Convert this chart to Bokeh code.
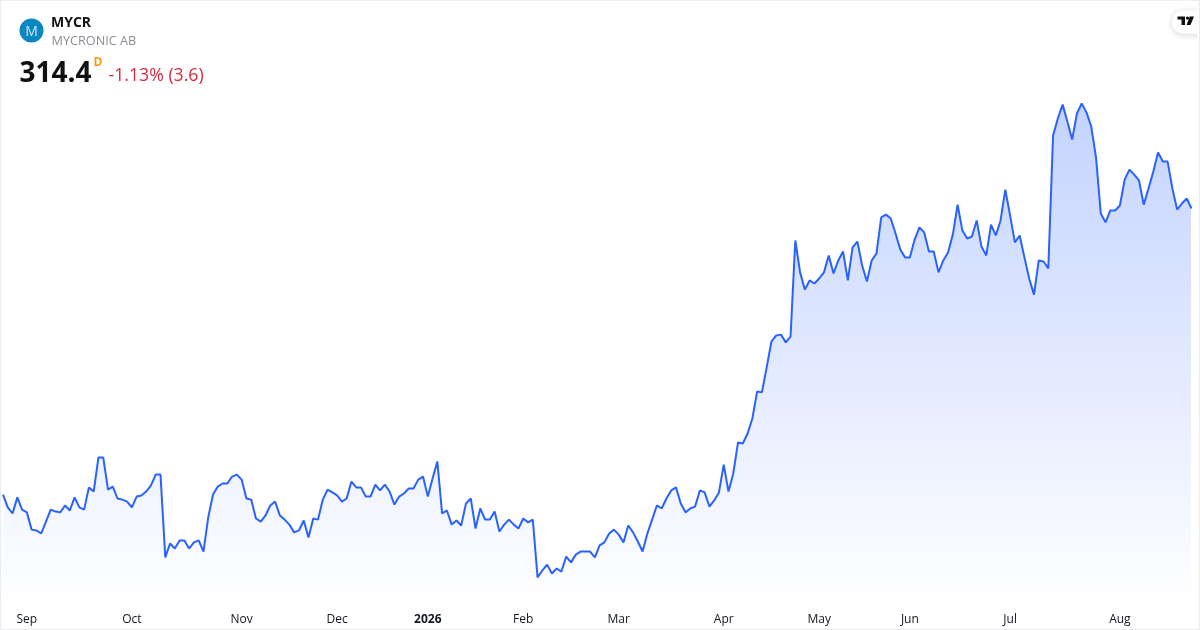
from bokeh.plotting import figure
from bokeh.models import LinearAxis, FixedTicker, Range1d
from bokeh.core.properties import value
from bokeh.embed import file_html
from bokeh.resources import INLINE
import numpy as np

ticker = "MYCR"
company = "MYCRONIC AB"
last_price = "314.4"
interval = "D"
change = "-1.13% (3.6)"

prices_sep_nov = [211.4,206.8,204.6,210.4,206.0,205.0,198.8,198.5,197.4,201.7,206.0,205.3,205.0,207.5,205.7,210.4,206.8,206.0,214.0,212.5,224.8,224.8,213.2,214.3,210.0,209.6,208.9,206.8,210.7,211.1,212.5,214.7,218.6,218.6,188.8,193.8,192.0,194.9,194.9,192.0,194.2,194.9,190.9,203.2,211.4,214.3,215.4,215.4,217.9,218.6,216.8,210.0,209.6,202.8,201.7,203.9,207.5,208.9,203.9,202.4,200.6,197.8,198.5]
prices_dec_feb = [202.1,196.0,202.8,202.4,209.6,213.2,212.2,211.1,208.9,210.0,216.1,214.0,214.0,210.7,210.7,215.0,212.9,215.0,212.5,207.8,210.7,211.8,213.6,213.6,216.8,217.9,210.7,217.2,223.3,204.6,205.7,200.6,202.1,200.3,208.2,210.0,199.2,206.4,202.4,202.4,205.3,198.1,200.6,202.4,200.6,199.2,202.8,201.4,202.4,181.6,184.1,186.2,183.0,184.8,183.7,189.1,187.0,189.8,190.9,190.9,190.9,188.8,193.1]
prices_mar_may = [194.2,197.4,198.8,197.0,194.2,200.3,197.8,194.5,190.9,197.4,202.4,207.5,206.4,210.0,212.9,214.0,208.2,205.0,206.4,207.1,212.9,212.2,207.1,209.3,212.2,222.2,212.5,219.0,230.2,229.8,233.4,238.8,248.5,248.2,257.2,266.5,268.7,269.0,266.2,268.3,302.9,291.4,285.2,288.5,287.4,289.2,291.4,297.5,291.0,295.7,298.9,288.5,300.4,302.5,293.9,288.1,295.7,298.2]
prices_jun_aug = [311.2,312.2,310.8,305.4,299.6,296.8,296.8,303.2,307.6,305.8,298.9,298.9,291.4,295.7,298.6,305.0,315.8,306.5,303.6,304.3,310.1,300.7,297.5,308.6,304.7,310.1,321.2,311.9,302.2,304.7,296.8,289.2,283.4,295.7,295.3,292.8,340.7,346.8,351.8,345.7,339.2,348.6,352.2,349.0,343.9,332.8,312.6,309.4,313.7,313.7,315.5,324.8,328.4,326.6,324.5,315.8,321.6,327.7,334.6,331.3,331.3,321.6,314.0,316.2,318.0,314.4]
prices = prices_sep_nov + prices_dec_feb + prices_mar_may + prices_jun_aug

month_labels = ["Sep","Oct","Nov","Dec","Feb","Mar","Apr","May","Jun","Jul","Aug"]
month_ticks = [5,27,50,70,109,129,151,171,190,211,234]
year_labels = ["2026"]
year_ticks = [89]

W, H = 1200, 630
STEP = 4.773
XS = -2.5 / STEP
XE = (W - 2.5) / STEP
YT = 389.28
YB = 389.28 - 0.36 * H

def px(x): return XS + np.asarray(x, float) / W * (XE - XS)
def py(y): return YT + np.asarray(y, float) / H * (YB - YT)

days = np.arange(len(prices))
p = figure(width=W, height=H, output_backend="svg", toolbar_location=None,
           x_range=Range1d(XS, XE), y_range=Range1d(YB, YT),
           min_border=0, min_border_left=0, min_border_right=0, min_border_top=0, min_border_bottom=0,
           x_axis_location=None, y_axis_location=None,
           styles={"position": "fixed", "left": "0px", "top": "0px"})
p.grid.visible = False
p.background_fill_color = "white"
p.border_fill_color = "white"
p.outline_line_color = "#e9ebef"
p.outline_line_width = 1

# gradient below the line: overlapping horizontal bands, then a white mask over the line
edges = np.arange(100, 604, 2)
t = (edges[:-1] - 100) / (604 - 100)
alpha = 0.28 * (1 - t)
cols = ["#%02x%02x%02x" % (round(255 - 214 * a), round(255 - 157 * a), 255) for a in alpha]
p.quad(left=0.1, right=len(prices) - 1.1, top=py(edges[:-1]), bottom=py(edges[1:] + 1),
       fill_color=cols, line_color=None)
p.varea(x=days, y1=prices, y2=YT, fill_color="white")
p.line(days, prices, line_color="#2962ff", line_width=2)

for labels, ticks, style, loc in ((month_labels, month_ticks, "normal", 598),
                                  (year_labels, year_ticks, "bold", 602)):
    ax = LinearAxis(ticker=FixedTicker(ticks=ticks),
                    major_label_overrides=dict(zip(ticks, labels)),
                    axis_line_color=None, major_tick_line_color=None, minor_tick_line_color=None,
                    major_label_text_font="Open Sans", major_label_text_font_size="12px",
                    major_label_text_font_style=style, major_label_text_color="#131722",
                    major_label_standoff=5, fixed_location=float(py(loc)))
    p.add_layout(ax, "below")

def txt(x, y, s, size, color, style="normal", align="left"):
    p.text(x=[float(px(x))], y=[float(py(y))], text=[s], text_font=value("Open Sans"),
           text_font_size=size, text_color=color, text_font_style=style,
           text_align=align, text_baseline="middle")

# logo
p.scatter(x=[float(px(31))], y=[float(py(30))], size=24, marker="circle", fill_color="#0a86c2", line_color=None)
txt(31, 30, "M", "14px", "#cfe8f5", align="center")
txt(50.5, 20.5, ticker, "14px", "#111111", "bold")
txt(51, 39.3, company, "12.7px", "#8a8e99")
txt(19, 71, last_price, "28px", "#111111", "bold")
txt(93, 61, interval, "12px", "#f59e0b", "bold")
txt(108, 73.5, change, "17.7px", "#d8293f")

# TradingView badge
def pill(cx, cy, r, right):
    a = np.linspace(np.pi / 2, 3 * np.pi / 2, 40)
    xs = np.concatenate([[right], cx + r * np.cos(a), [right]])
    ys = np.concatenate([[cy - r], cy - r * np.sin(a), [cy + r]])
    return px(xs).tolist(), py(ys).tolist()

for grow, a in ((6, .006), (5, .008), (4, .01), (3, .012), (2, .014), (1, .016)):
    xs, ys = pill(1183.5, 23, 11.5 + grow, 1197)
    p.patch(xs, ys, fill_color="#000000", fill_alpha=a, line_color=None)
xs, ys = pill(1183, 21.5, 11.5, 1197)
p.patch(xs, ys, fill_color="white", line_color=None)
p.patches(xs=[px([1177, 1184.5, 1184.5, 1181, 1181, 1177]).tolist(),
              px([1189.2, 1193.5, 1190, 1186]).tolist()],
          ys=[py([16, 16, 24.5, 24.5, 19, 19]).tolist(),
              py([16, 16, 24.5, 24.5]).tolist()],
          fill_color="#111111", line_color=None)
p.scatter(x=[float(px(1187))], y=[float(py(17.6))], size=3.4, marker="circle", fill_color="#111111", line_color=None)

open("out.html", "w").write(file_html(p, INLINE))
